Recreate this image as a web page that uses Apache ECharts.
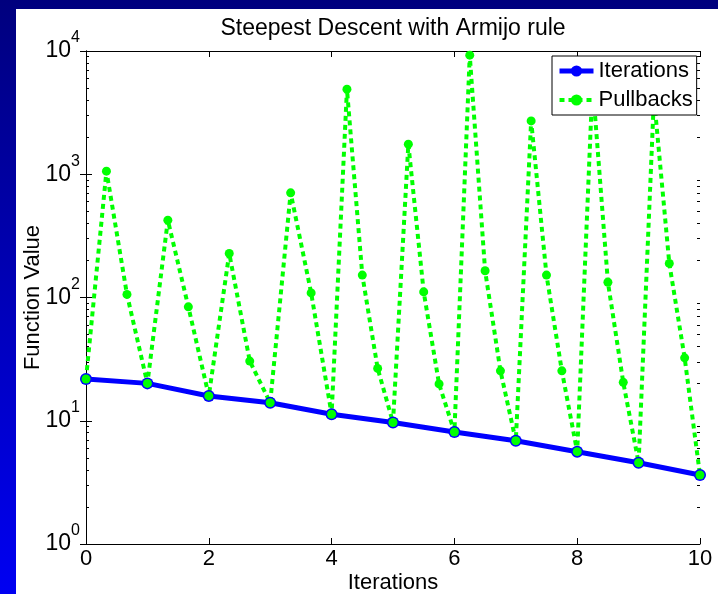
<!DOCTYPE html>
<html>
<head>
<meta charset="utf-8">
<script src="https://cdn.jsdelivr.net/npm/echarts@6/dist/echarts.min.js"></script>
<style>
  html, body { margin: 0; padding: 0; width: 718px; height: 594px; overflow: hidden; }
  body { position: relative; background: linear-gradient(to bottom, #00007e 0%, #0000f2 100%); }
  #chart { position: absolute; left: 16px; top: 9px; width: 702px; height: 585px; background: #ffffff; }
</style>
</head>
<body>
<div id="chart"></div>
<script>
// Text
const titleText = 'Steepest Descent with Armijo rule';
const xAxisName = 'Iterations';
const yAxisName = 'Function Value';
const seriesNames = ['Iterations', 'Pullbacks'];

// Axis ticks
const xTickValues = [0, 2, 4, 6, 8, 10];
const yDecadeValues = [1, 10, 100, 1000, 10000];
const yMinorValues = [
  2, 3, 4, 5, 6, 7, 8, 9,
  20, 30, 40, 50, 60, 70, 80, 90,
  200, 300, 400, 500, 600, 700, 800, 900,
  2000, 3000, 4000, 5000, 6000, 7000, 8000, 9000
];

// Accepted iterates
const iterX = [0, 1, 2, 3, 4, 5, 6, 7, 8, 9, 10];
const iterY = [21.8, 20.1, 15.9, 14.0, 11.3, 9.67, 8.10, 6.88, 5.61, 4.56, 3.63];

// Trial points of the line search (backtracking pullbacks)
const pullX = [
  0, 0.333, 0.667, 1,
  1.333, 1.667, 2,
  2.333, 2.667, 3,
  3.333, 3.667, 4,
  4.25, 4.5, 4.75, 5,
  5.25, 5.5, 5.75, 6,
  6.25, 6.5, 6.75, 7,
  7.25, 7.5, 7.75, 8,
  8.25, 8.5, 8.75, 9,
  9.25, 9.5, 9.75, 10
];
const pullY = [
  21.8, 1060, 106, 20.1,
  424, 84, 15.9,
  228, 30.5, 14.0,
  707, 109, 11.3,
  4900, 152, 26.6, 9.67,
  1754, 111, 19.9, 8.10,
  9250, 165, 25.4, 6.88,
  2710, 152, 25.4, 5.61,
  5500, 133, 20.5, 4.56,
  4200, 189, 32.4, 3.63
];

const FONT = '"Liberation Sans", Arial, sans-serif';
const zip = (xs, ys) => xs.map((x, i) => [x, ys[i]]);

const chart = echarts.init(document.getElementById('chart'), null, { renderer: 'canvas' });

const baseX = {
  type: 'value', min: 0, max: 10, interval: 2,
  splitLine: { show: false },
  axisLine: { show: true, onZero: false, lineStyle: { color: '#000', width: 1 } },
  axisTick: { show: true, inside: true, length: 6, lineStyle: { color: '#000', width: 1 } }
};

const baseY = {
  type: 'log', logBase: 10, min: 1, max: 10000,
  splitLine: { show: false },
  axisLine: { show: true, lineStyle: { color: '#000', width: 1 } },
  axisTick: { show: true, inside: true, length: 6, lineStyle: { color: '#000', width: 1 }, customValues: yDecadeValues }
};

const minorY = (position) => ({
  type: 'log', logBase: 10, min: 1, max: 10000, position,
  splitLine: { show: false },
  axisLine: { show: false },
  axisLabel: { show: false },
  axisTick: { show: true, inside: true, length: 3, lineStyle: { color: '#000', width: 1 }, customValues: yMinorValues }
});

chart.setOption({
  animation: false,
  title: {
    text: titleText,
    left: 377, top: 8, padding: 0,
    textAlign: 'center',
    textStyle: { fontFamily: FONT, fontSize: 23, fontWeight: 'normal', color: '#000' }
  },
  grid: { left: 70, right: 18, top: 42, bottom: 50, containLabel: false, outerBoundsMode: 'none' },
  legend: {
    data: seriesNames,
    orient: 'vertical',
    left: 536, top: 47,
    backgroundColor: '#fff', borderColor: '#000', borderWidth: 1, borderRadius: 0,
    padding: [2, 4, 2, 5],
    itemGap: 3, itemWidth: 34, itemHeight: 14,
    lineStyle: { width: 'inherit', type: 'inherit' },
    textStyle: { fontFamily: FONT, fontSize: 22, fontWeight: 'normal', lineHeight: 26, color: '#000' }
  },
  xAxis: [
    Object.assign({}, baseX, {
      position: 'bottom',
      name: xAxisName, nameLocation: 'middle', nameGap: 28, nameMoveOverlap: false,
      nameTextStyle: { fontFamily: FONT, fontSize: 22, color: '#000' },
      axisLabel: { show: true, margin: 4, fontFamily: FONT, fontSize: 22, color: '#000',
        customValues: xTickValues }
    }),
    Object.assign({}, baseX, { position: 'top', axisLabel: { show: false } })
  ],
  yAxis: [
    Object.assign({}, baseY, {
      position: 'left',
      name: yAxisName, nameLocation: 'middle', nameGap: 42, nameMoveOverlap: false,
      nameTextStyle: { fontFamily: FONT, fontSize: 22, color: '#000' },
      axisLabel: {
        show: true, margin: 6, customValues: yDecadeValues,
        formatter: (v) => '{b|10}{e|' + Math.round(Math.log10(v)) + '}',
        rich: {
          b: { fontFamily: FONT, fontSize: 23, lineHeight: 42, color: '#000' },
          e: { fontFamily: FONT, fontSize: 16, lineHeight: 16, verticalAlign: 'top', color: '#000' }
        }
      }
    }),
    Object.assign({}, baseY, { position: 'right', axisLabel: { show: false } }),
    minorY('left'),
    minorY('right')
  ],
  series: [
    {
      name: seriesNames[0], type: 'line',
      xAxisIndex: 0, yAxisIndex: 0,
      data: zip(iterX, iterY),
      symbol: 'circle', symbolSize: 12,
      lineStyle: { color: '#0000ff', width: 5 },
      itemStyle: { color: '#0000ff' },
      emphasis: { disabled: true }
    },
    {
      name: seriesNames[1], type: 'line',
      xAxisIndex: 0, yAxisIndex: 0,
      data: zip(pullX, pullY),
      symbol: 'circle', symbolSize: 9,
      lineStyle: { color: '#00ff00', width: 4, type: [5, 4], cap: 'butt' },
      itemStyle: { color: '#00ff00' },
      emphasis: { disabled: true }
    }
  ]
});
</script>
</body>
</html>
